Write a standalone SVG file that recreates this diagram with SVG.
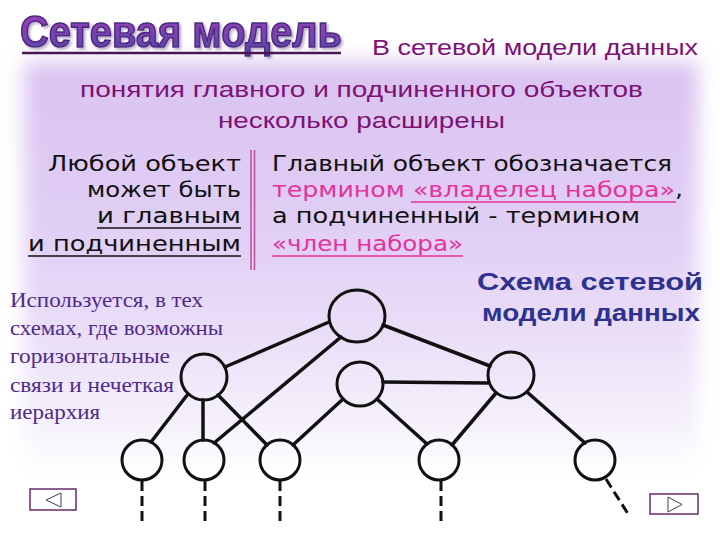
<svg xmlns="http://www.w3.org/2000/svg" width="720" height="540" viewBox="0 0 720 540">
  <defs>
    <linearGradient id="bgGrad" x1="0" y1="0" x2="0" y2="1">
      <stop offset="0" stop-color="#d9c2f0"/>
      <stop offset="0.45" stop-color="#e2d0f5"/>
      <stop offset="0.68" stop-color="#ebe0f8"/>
      <stop offset="0.88" stop-color="#f5f1fb"/>
      <stop offset="1" stop-color="#ffffff"/>
    </linearGradient>
    <linearGradient id="titleGrad" x1="0" y1="0" x2="0" y2="1">
      <stop offset="0" stop-color="#a83cb8"/>
      <stop offset="1" stop-color="#5546a8"/>
    </linearGradient>
    <linearGradient id="ulGrad" x1="0" y1="0" x2="0" y2="1">
      <stop offset="0" stop-color="#e6a85a"/>
      <stop offset="1" stop-color="#a89aa8"/>
    </linearGradient>
    <filter id="soft" x="-10%" y="-10%" width="120%" height="120%">
      <feGaussianBlur stdDeviation="10"/>
    </filter>
    <filter id="shadow" x="-5%" y="-20%" width="110%" height="150%">
      <feDropShadow dx="2" dy="2" stdDeviation="1" flood-color="#b8a8c8" flood-opacity="0.9"/>
    </filter>
    <style>
      .sub { font-family: "Liberation Sans", Arial, sans-serif; font-size: 22px; fill: #7d1176; }
      .cm { font-family: "DejaVu Sans", "Noto Sans", sans-serif; font-size: 21px; fill: #111111; }
      .pk { fill: #e4339a; }
      .blue { font-family: "Liberation Sans", Arial, sans-serif; font-weight: bold; font-size: 23px; fill: #2d3190; }
      .ser { font-family: "Liberation Serif", "Times New Roman", serif; font-size: 20px; fill: #4f2a8c; }
      .node { fill: none; stroke: #111111; stroke-width: 3; }
      .edge { stroke: #111111; stroke-width: 3.5; stroke-linecap: round; }
      .dash { stroke: #111111; stroke-width: 3; stroke-dasharray: 10 5; }
      .btn { fill: #ffffff; stroke: #6a2a6a; stroke-width: 1.5; }
      .tri { fill: #ffffff; stroke: #4a3a5a; stroke-width: 1; }
    </style>
  </defs>

  <rect x="0" y="0" width="720" height="540" fill="#ffffff"/>
  <rect x="24" y="62" width="674" height="412" fill="url(#bgGrad)" filter="url(#soft)"/>

  <!-- Title -->
  <g id="title">
    <text x="20" y="47" font-family="Liberation Sans, Arial, sans-serif" font-weight="bold" font-size="45" textLength="322" lengthAdjust="spacingAndGlyphs" fill="url(#titleGrad)" stroke="#4a2a80" stroke-width="1.6" filter="url(#shadow)">Сетевая модель</text>
    <line x1="22" y1="53" x2="341" y2="53" stroke="#4a1650" stroke-width="2.5"/>
  </g>

  <!-- Intro text -->
  <g id="intro">
    <text class="sub" x="372" y="55" textLength="326" lengthAdjust="spacingAndGlyphs">В сетевой модели данных</text>
    <text class="sub" x="80" y="97" textLength="563" lengthAdjust="spacingAndGlyphs">понятия главного и подчиненного объектов</text>
    <text class="sub" x="218" y="128" textLength="287" lengthAdjust="spacingAndGlyphs">несколько расширены</text>
  </g>

  <!-- Left column -->
  <g id="left-column">
    <text class="cm" x="241" y="171" text-anchor="end" textLength="193" lengthAdjust="spacingAndGlyphs">Любой объект</text>
    <text class="cm" x="241" y="197" text-anchor="end" textLength="154" lengthAdjust="spacingAndGlyphs">может быть</text>
    <text class="cm" x="241" y="223" text-anchor="end" textLength="144" lengthAdjust="spacingAndGlyphs">и главным</text>
    <line x1="97" y1="228" x2="241" y2="228" stroke="#111111" stroke-width="1.5"/>
    <text class="cm" x="241" y="251" text-anchor="end" textLength="213" lengthAdjust="spacingAndGlyphs">и подчиненным</text>
    <line x1="28" y1="256" x2="241" y2="256" stroke="#111111" stroke-width="1.5"/>
  </g>

  <!-- Divider -->
  <g id="divider">
    <line x1="251" y1="150" x2="251" y2="270" stroke="#c04a9a" stroke-width="1.5"/>
    <line x1="254.5" y1="150" x2="254.5" y2="270" stroke="#c04a9a" stroke-width="1.5"/>
  </g>

  <!-- Right column -->
  <g id="right-column">
    <text class="cm" x="272" y="171" textLength="400" lengthAdjust="spacingAndGlyphs">Главный объект обозначается</text>
    <text class="cm" x="272" y="197" textLength="411" lengthAdjust="spacingAndGlyphs"><tspan class="pk">термином «владелец набора»</tspan>,</text>
    <line x1="411" y1="202" x2="676" y2="202" stroke="#e4339a" stroke-width="1.5"/>
    <text class="cm" x="272" y="223" textLength="368" lengthAdjust="spacingAndGlyphs">а подчиненный - термином</text>
    <text class="cm pk" x="272" y="251" textLength="191" lengthAdjust="spacingAndGlyphs">«член набора»</text>
    <line x1="272" y1="256" x2="463" y2="256" stroke="#e4339a" stroke-width="1.5"/>
  </g>

  <!-- Caption -->
  <g id="caption">
    <text class="blue" x="477" y="290" textLength="226" lengthAdjust="spacingAndGlyphs">Схема сетевой</text>
    <text class="blue" x="482" y="321" textLength="218" lengthAdjust="spacingAndGlyphs">модели данных</text>
    <line x1="488" y1="331" x2="698" y2="331" stroke="url(#ulGrad)" stroke-width="3.5"/>
  </g>

  <!-- Side note -->
  <g id="note">
    <text class="ser" x="10" y="307" textLength="193" lengthAdjust="spacingAndGlyphs">Используется, в тех</text>
    <text class="ser" x="10" y="335" textLength="213" lengthAdjust="spacingAndGlyphs">схемах, где возможны</text>
    <text class="ser" x="10" y="363" textLength="160" lengthAdjust="spacingAndGlyphs">горизонтальные</text>
    <text class="ser" x="10" y="392" textLength="164" lengthAdjust="spacingAndGlyphs">связи и нечеткая</text>
    <text class="ser" x="10" y="419" textLength="90" lengthAdjust="spacingAndGlyphs">иерархия</text>
  </g>

  <!-- Connectors -->
  <g id="connectors">
    <line class="edge" x1="329" y1="322" x2="225" y2="367"/>
    <line class="edge" x1="341" y1="337" x2="214" y2="443"/>
    <line class="edge" x1="383" y1="325" x2="490" y2="366"/>
    <line class="edge" x1="383" y1="382" x2="488" y2="383"/>
    <line class="edge" x1="343" y1="399" x2="293" y2="445"/>
    <line class="edge" x1="377" y1="399" x2="427" y2="444"/>
    <line class="edge" x1="496" y1="393" x2="452" y2="445"/>
    <line class="edge" x1="527" y1="392" x2="585" y2="443"/>
    <line class="edge" x1="188" y1="394" x2="151" y2="442"/>
    <line class="edge" x1="203" y1="400" x2="203" y2="440"/>
    <line class="edge" x1="218" y1="395" x2="267" y2="445"/>
    <line class="dash" x1="142" y1="481" x2="142" y2="525"/>
    <line class="dash" x1="205" y1="481" x2="205" y2="525"/>
    <line class="dash" x1="280" y1="481" x2="280" y2="525"/>
    <line class="dash" x1="441" y1="481" x2="441" y2="525"/>
    <line class="dash" x1="606" y1="479" x2="630" y2="517"/>
  </g>

  <!-- Nodes -->
  <g id="node-top"><ellipse class="node" cx="357" cy="316" rx="28" ry="26"/></g>
  <g id="node-left"><ellipse class="node" cx="204" cy="377" rx="23" ry="23"/></g>
  <g id="node-middle"><ellipse class="node" cx="360" cy="384" rx="23" ry="22"/></g>
  <g id="node-right"><ellipse class="node" cx="511" cy="375" rx="23" ry="23"/></g>
  <g id="node-b1"><ellipse class="node" cx="142" cy="460" rx="20" ry="20"/></g>
  <g id="node-b2"><ellipse class="node" cx="204" cy="460" rx="20" ry="20"/></g>
  <g id="node-b3"><ellipse class="node" cx="280" cy="460" rx="20" ry="20"/></g>
  <g id="node-b4"><ellipse class="node" cx="439" cy="460" rx="20" ry="20"/></g>
  <g id="node-b5"><ellipse class="node" cx="595" cy="460" rx="20" ry="20"/></g>

  <!-- Navigation buttons -->
  <g id="btn-prev">
    <rect class="btn" x="30" y="489" width="46" height="21"/>
    <polygon class="tri" points="46,500 61,493 61,507"/>
  </g>
  <g id="btn-next">
    <rect class="btn" x="650" y="494" width="48" height="20"/>
    <polygon class="tri" points="668,497 682,504.5 668,512"/>
  </g>
</svg>
